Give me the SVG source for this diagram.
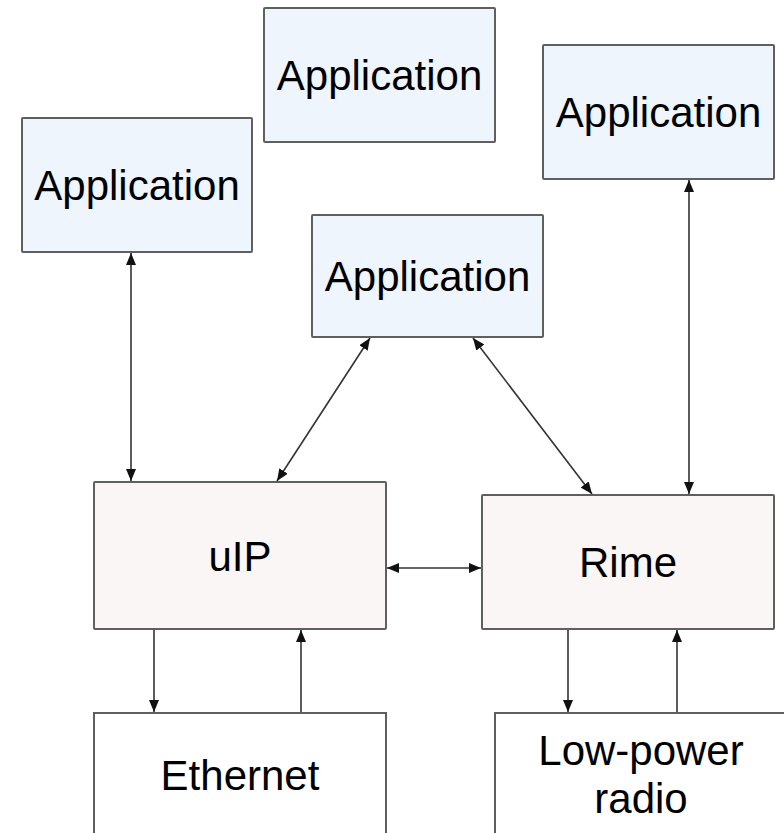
<svg xmlns="http://www.w3.org/2000/svg" width="784" height="833" viewBox="0 0 784 833">
  <style>
    .app { fill: #eff5fd; stroke: #5f5f5f; stroke-width: 2; }
    .stack { fill: #f9f6f5; stroke: #5f5f5f; stroke-width: 2; }
    .dev { fill: #ffffff; stroke: #5f5f5f; stroke-width: 2; }
    .lbl { font-family: "Liberation Sans", Arial, sans-serif; font-size: 42px; fill: #000; text-anchor: middle; }
    .edge { fill: none; stroke: #333; stroke-width: 1.6; marker-end: url(#tip); }
    .edge2 { marker-start: url(#tail); }
  </style>
  <defs>
    <marker id="tip" viewBox="0 0 12 10" refX="12" refY="5" markerWidth="12" markerHeight="10" markerUnits="userSpaceOnUse" orient="auto">
      <path d="M0,0 L12,5 L0,10 Z" fill="#111"/>
    </marker>
    <marker id="tail" viewBox="0 0 12 10" refX="0" refY="5" markerWidth="12" markerHeight="10" markerUnits="userSpaceOnUse" orient="auto">
      <path d="M12,0 L0,5 L12,10 Z" fill="#111"/>
    </marker>
  </defs>
  <rect width="784" height="833" fill="#ffffff"/>

  <g id="connectors">
    <line class="edge edge2" x1="131" y1="253" x2="131" y2="481"/>
    <line class="edge edge2" x1="370" y1="338" x2="277" y2="481"/>
    <line class="edge edge2" x1="473" y1="338" x2="592" y2="494"/>
    <line class="edge edge2" x1="689" y1="180" x2="689" y2="494"/>
    <line class="edge edge2" x1="387" y1="568" x2="481" y2="568"/>
    <line class="edge" x1="154" y1="630" x2="154" y2="712"/>
    <line class="edge" x1="301" y1="712" x2="301" y2="630"/>
    <line class="edge" x1="568" y1="630" x2="568" y2="712"/>
    <line class="edge" x1="677" y1="712" x2="677" y2="630"/>
  </g>

  <g id="app-top">
    <rect class="app" x="264" y="8" width="231" height="134" rx="1"/>
    <text class="lbl" x="379.5" y="90">Application</text>
  </g>
  <g id="app-left">
    <rect class="app" x="22" y="118" width="230" height="134" rx="1"/>
    <text class="lbl" x="137" y="200">Application</text>
  </g>
  <g id="app-right">
    <rect class="app" x="543" y="45" width="231" height="134" rx="1"/>
    <text class="lbl" x="658.5" y="127">Application</text>
  </g>
  <g id="app-mid">
    <rect class="app" x="312" y="215" width="231" height="122" rx="1"/>
    <text class="lbl" x="427.5" y="291">Application</text>
  </g>
  <g id="uip">
    <rect class="stack" x="94" y="482" width="292" height="147" rx="1"/>
    <text class="lbl" x="240" y="571">uIP</text>
  </g>
  <g id="rime">
    <rect class="stack" x="482" y="495" width="292" height="134" rx="1"/>
    <text class="lbl" x="628" y="577">Rime</text>
  </g>
  <g id="ethernet">
    <rect class="dev" x="94" y="713" width="292" height="140"/>
    <text class="lbl" x="240" y="790">Ethernet</text>
  </g>
  <g id="radio">
    <rect class="dev" x="495" y="713" width="292" height="140"/>
    <text class="lbl" x="641" y="765">Low-power</text>
    <text class="lbl" x="641" y="813">radio</text>
  </g>
</svg>
